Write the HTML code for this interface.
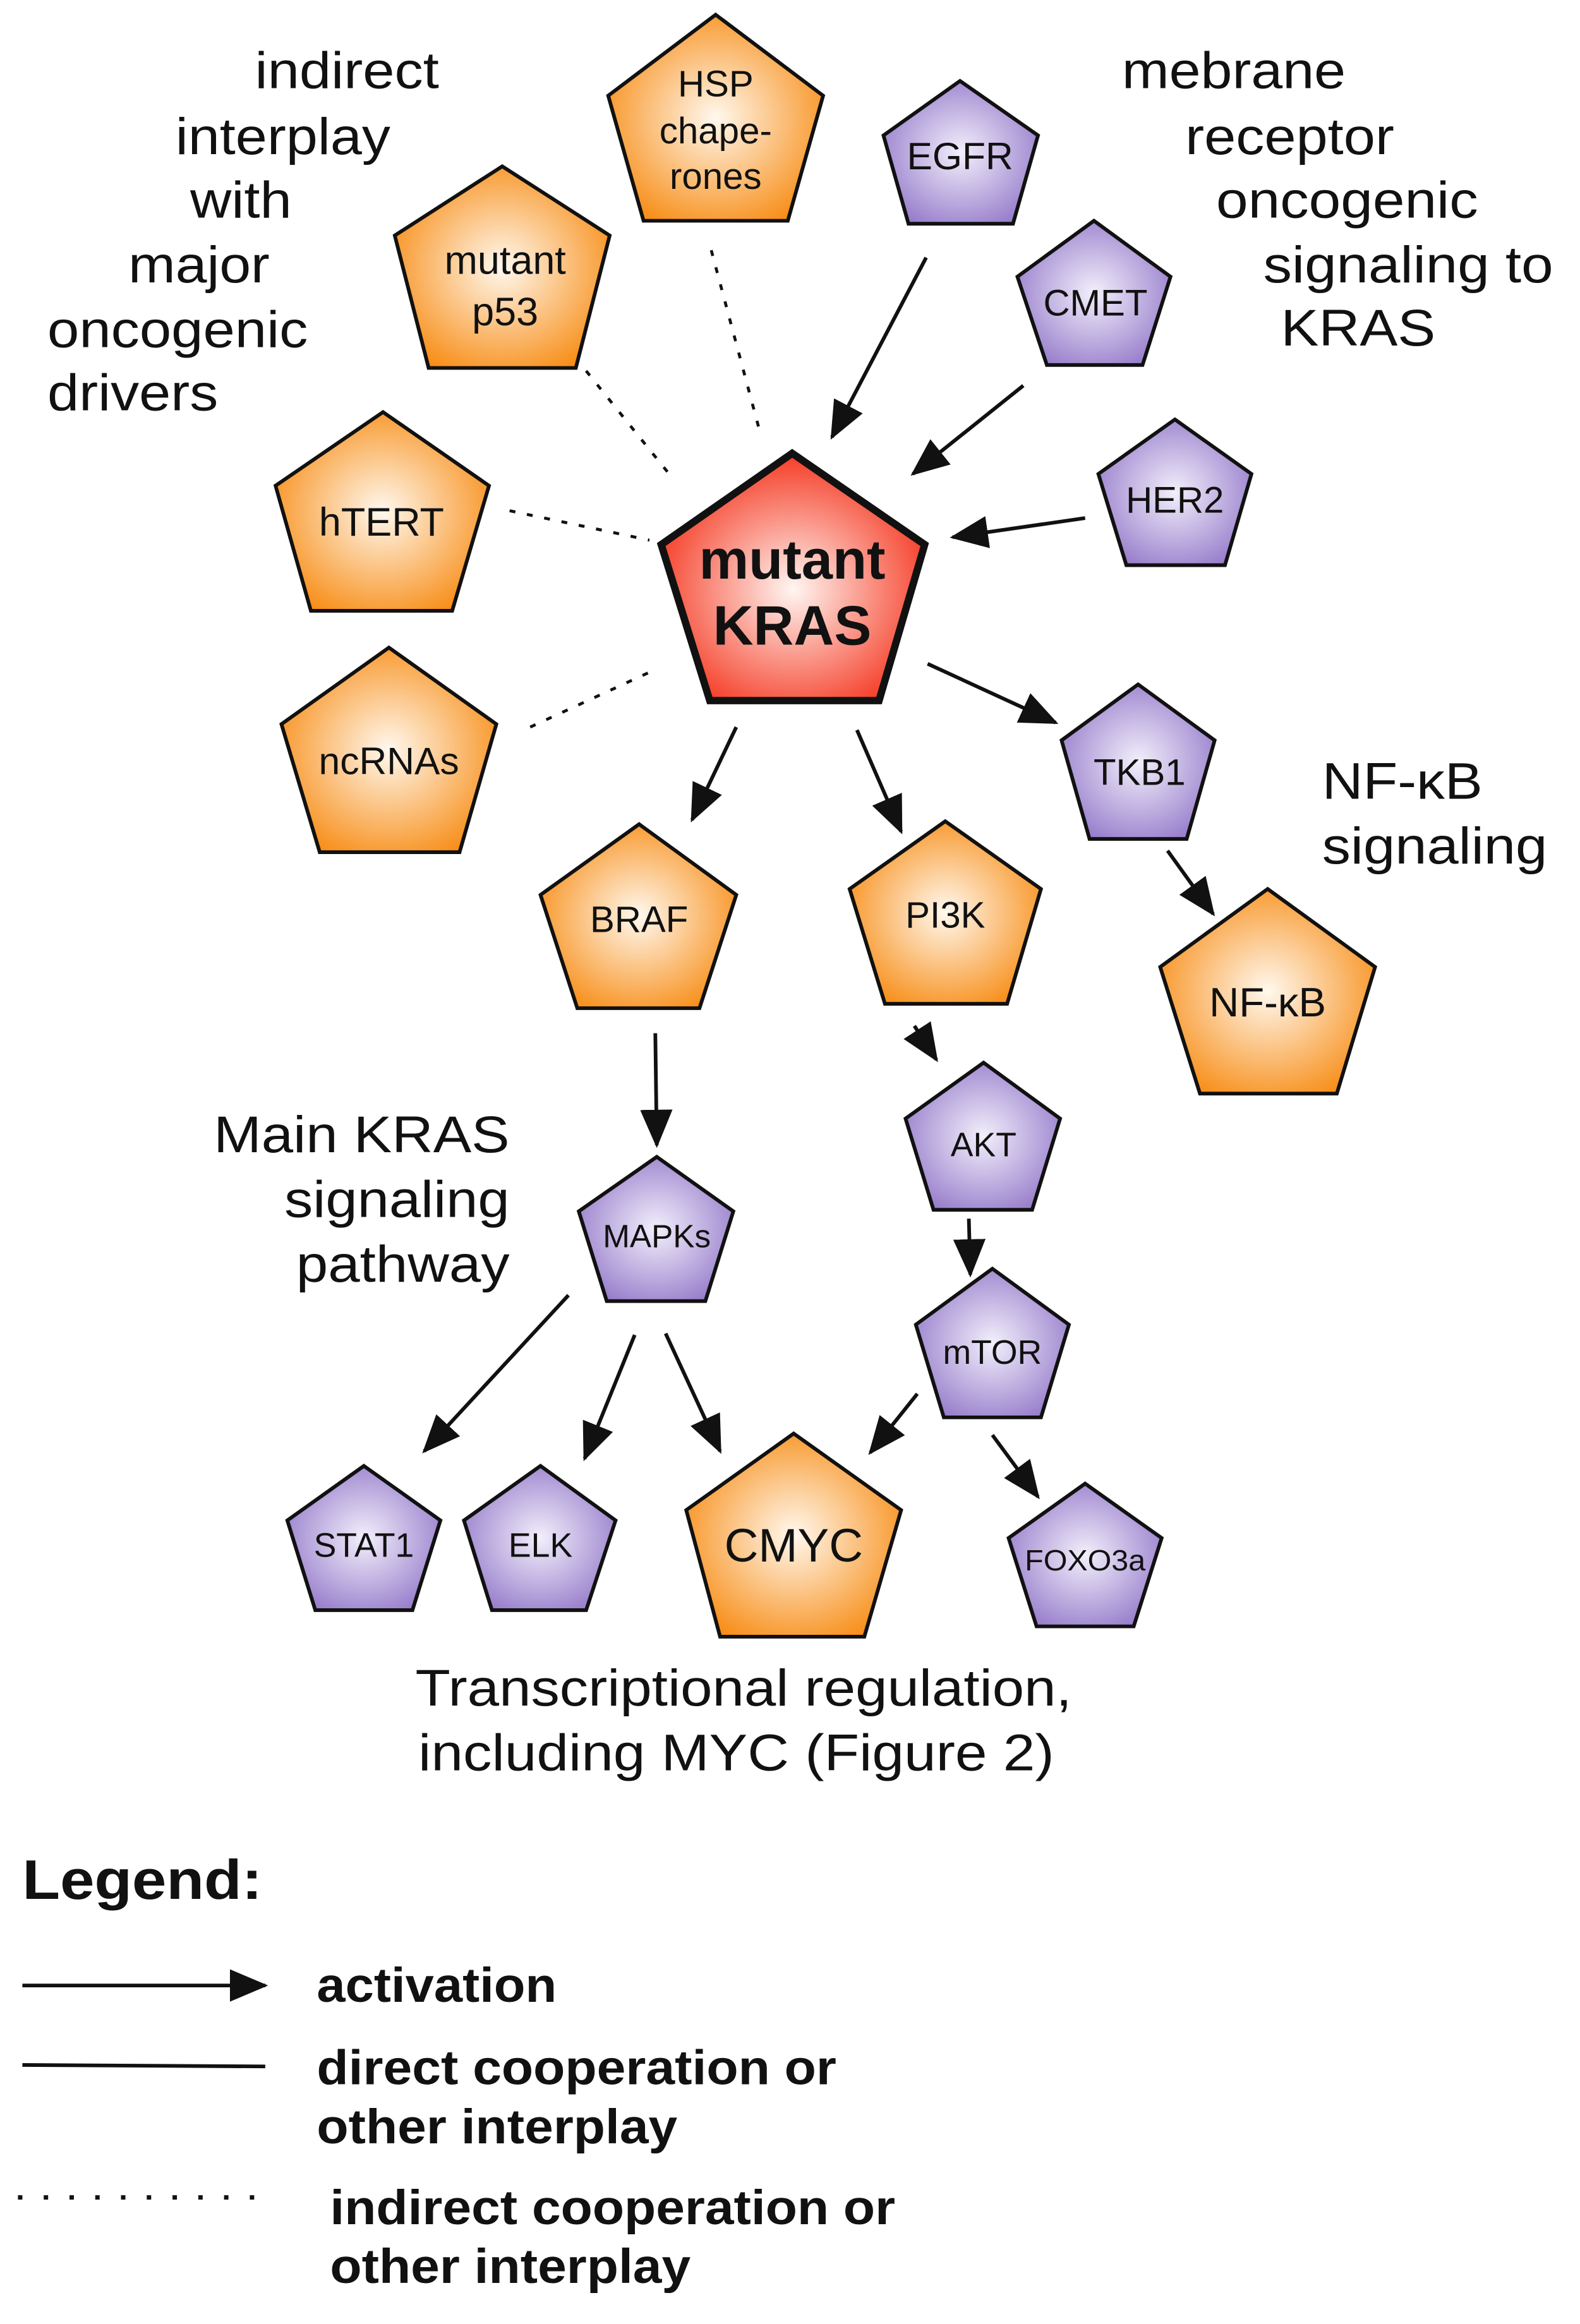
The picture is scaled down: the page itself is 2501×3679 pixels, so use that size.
<!DOCTYPE html>
<html><head><meta charset="utf-8"><style>html,body{margin:0;padding:0;background:#fff}svg{display:block;font-family:"Liberation Sans",Arial,sans-serif}</style></head>
<body>
<svg width="2501" height="3679" viewBox="0 0 1073 1579" xmlns="http://www.w3.org/2000/svg" font-family="'Liberation Sans', Arial, sans-serif">
<defs>
<radialGradient id="og" cx="50%" cy="50%" r="60%"><stop offset="0" stop-color="#fff8ee"/><stop offset="1" stop-color="#f78a10"/></radialGradient>
<radialGradient id="pg" cx="50%" cy="50%" r="60%"><stop offset="0" stop-color="#f2effb"/><stop offset="1" stop-color="#9378c9"/></radialGradient>
<radialGradient id="rg" cx="50%" cy="55%" r="60%"><stop offset="0" stop-color="#fff6f2"/><stop offset="1" stop-color="#f42a12"/></radialGradient>
<marker id="a" markerUnits="userSpaceOnUse" markerWidth="26" markerHeight="22" refX="24" refY="11" orient="auto"><path d="M0,0 L26,11 L0,22 z" fill="#111"/></marker>
</defs>
<rect width="1073" height="1579" fill="#fff"/>
<g stroke="#111" stroke-width="2.5" stroke-linejoin="miter">
<polygon fill="url(#og)" points="486,10 559,65 535,150 437,150 413,65"/>
<polygon fill="url(#pg)" points="652,55 705,92 688,152 617,152 600,92"/>
<polygon fill="url(#og)" points="341,113 414,160 391,250 291,250 268,160"/>
<polygon fill="url(#pg)" points="743,150 795,188 776,248 711,248 691,188"/>
<polygon fill="url(#og)" points="260,280 332,330 307,415 211,415 187,330"/>
<polygon fill="url(#pg)" points="798,285 850,322 832,384 765,384 746,322"/>
<polygon fill="url(#og)" points="264,440 337,492 312,579 217,579 191,492"/>
<polygon fill="url(#pg)" points="773,465 825,503 806,570 740,570 721,503"/>
<polygon fill="url(#og)" points="434,560 500,608 475,685 392,685 367,608"/>
<polygon fill="url(#og)" points="642,558 707,604 684,682 601,682 577,604"/>
<polygon fill="url(#og)" points="861,604 934,657 908,743 815,743 788,657"/>
<polygon fill="url(#pg)" points="668,722 720,760 701,822 634,822 615,760"/>
<polygon fill="url(#pg)" points="446,786 498,823 479,884 412,884 393,823"/>
<polygon fill="url(#pg)" points="674,862 726,900 707,963 641,963 622,900"/>
<polygon fill="url(#pg)" points="247,996 299,1033 280,1094 214,1094 195,1033"/>
<polygon fill="url(#pg)" points="367,996 418,1033 398,1094 334,1094 315,1033"/>
<polygon fill="url(#og)" points="539,974 612,1026 587,1112 489,1112 466,1026"/>
<polygon fill="url(#pg)" points="737,1008 789,1045 770,1105 704,1105 685,1045"/>
<polygon fill="url(#rg)" stroke-width="5" points="538,308 628,370 597,476 482,476 449,370"/>
</g>
<g stroke="#111" stroke-width="2.5" fill="none" marker-end="url(#a)">
<line x1="629" y1="175" x2="565" y2="297"/>
<line x1="695" y1="262" x2="620" y2="322"/>
<line x1="737" y1="352" x2="647" y2="365"/>
<line x1="630" y1="451" x2="717" y2="491"/>
<line x1="500" y1="494" x2="470" y2="557"/>
<line x1="582" y1="496" x2="612" y2="565"/>
<line x1="793" y1="578" x2="824" y2="621"/>
<line x1="445" y1="702" x2="446" y2="778"/>
<line x1="621" y1="697" x2="636" y2="720"/>
<line x1="658" y1="828" x2="659" y2="866"/>
<line x1="386" y1="880" x2="288" y2="986"/>
<line x1="431" y1="907" x2="397" y2="991"/>
<line x1="452" y1="906" x2="489" y2="986"/>
<line x1="623" y1="947" x2="591" y2="987"/>
<line x1="674" y1="975" x2="705" y2="1017"/>
<line x1="15" y1="1349" x2="180" y2="1349"/>
</g>
<g stroke="#111" stroke-width="2" fill="none" stroke-dasharray="4,8">
<line x1="483" y1="170" x2="517" y2="297"/>
<line x1="398" y1="252" x2="456" y2="324"/>
<line x1="346" y1="347" x2="441" y2="367"/>
<line x1="360" y1="494" x2="447" y2="454"/>
<line x1="12" y1="1493" x2="180" y2="1493" stroke-width="3" stroke-dasharray="3,14.5"/>
</g>
<line x1="15" y1="1403" x2="180" y2="1404" stroke="#111" stroke-width="2.5"/>
<g fill="#111" text-anchor="middle" dominant-baseline="central">
<text x="486" y="57" font-size="25">HSP</text>
<text x="486" y="89" font-size="25">chape-</text>
<text x="486" y="120" font-size="25">rones</text>
<text x="343" y="177" font-size="27">mutant</text>
<text x="343" y="212" font-size="27">p53</text>
<text x="259" y="355" font-size="27">hTERT</text>
<text x="652" y="106" font-size="26">EGFR</text>
<text x="744" y="206" font-size="25">CMET</text>
<text x="798" y="340" font-size="25">HER2</text>
<text x="264" y="517" font-size="26">ncRNAs</text>
<text x="774" y="525" font-size="25">TKB1</text>
<text x="434" y="625" font-size="25">BRAF</text>
<text x="642" y="622" font-size="25">PI3K</text>
<text x="861" y="681" font-size="28">NF-κB</text>
<text x="668" y="778" font-size="23">AKT</text>
<text x="446" y="840" font-size="22">MAPKs</text>
<text x="674" y="919" font-size="23">mTOR</text>
<text x="247" y="1050" font-size="23">STAT1</text>
<text x="367" y="1050" font-size="23">ELK</text>
<text x="539" y="1050" font-size="32">CMYC</text>
<text x="737" y="1060" font-size="20" textLength="82" lengthAdjust="spacingAndGlyphs">FOXO3a</text>
<text x="538" y="380" font-size="38" font-weight="bold">mutant</text>
<text x="538" y="425" font-size="38" font-weight="bold">KRAS</text>
</g>
<g fill="#111" font-size="35" dominant-baseline="central">
<text x="173" y="48" textLength="125" lengthAdjust="spacingAndGlyphs">indirect</text>
<text x="119" y="93" textLength="146" lengthAdjust="spacingAndGlyphs">interplay</text>
<text x="129" y="136" textLength="69" lengthAdjust="spacingAndGlyphs">with</text>
<text x="87" y="180" textLength="96" lengthAdjust="spacingAndGlyphs">major</text>
<text x="32" y="224" textLength="177" lengthAdjust="spacingAndGlyphs">oncogenic</text>
<text x="32" y="267" textLength="116" lengthAdjust="spacingAndGlyphs">drivers</text>
<text x="762" y="48" textLength="152" lengthAdjust="spacingAndGlyphs">mebrane</text>
<text x="805" y="93" textLength="142" lengthAdjust="spacingAndGlyphs">receptor</text>
<text x="826" y="136" textLength="178" lengthAdjust="spacingAndGlyphs">oncogenic</text>
<text x="858" y="180" textLength="197" lengthAdjust="spacingAndGlyphs">signaling to</text>
<text x="870" y="223" textLength="105" lengthAdjust="spacingAndGlyphs">KRAS</text>
<text x="898" y="531" textLength="109" lengthAdjust="spacingAndGlyphs">NF-κB</text>
<text x="898" y="575" textLength="153" lengthAdjust="spacingAndGlyphs">signaling</text>
<text x="145" y="771" textLength="201" lengthAdjust="spacingAndGlyphs">Main KRAS</text>
<text x="193" y="815" textLength="153" lengthAdjust="spacingAndGlyphs">signaling</text>
<text x="201" y="859" textLength="145" lengthAdjust="spacingAndGlyphs">pathway</text>
<text x="282" y="1147" textLength="446" lengthAdjust="spacingAndGlyphs">Transcriptional regulation,</text>
<text x="284" y="1191" textLength="432" lengthAdjust="spacingAndGlyphs">including MYC (Figure 2)</text>
</g>
<g fill="#111" font-weight="bold" dominant-baseline="central">
<text x="15" y="1277" font-size="38" textLength="163" lengthAdjust="spacingAndGlyphs">Legend:</text>
<text x="215" y="1349" font-size="33" textLength="163" lengthAdjust="spacingAndGlyphs">activation</text>
<text x="215" y="1405" font-size="33" textLength="353" lengthAdjust="spacingAndGlyphs">direct cooperation or</text>
<text x="215" y="1445" font-size="33" textLength="245" lengthAdjust="spacingAndGlyphs">other interplay</text>
<text x="224" y="1500" font-size="33" textLength="384" lengthAdjust="spacingAndGlyphs">indirect cooperation or</text>
<text x="224" y="1540" font-size="33" textLength="245" lengthAdjust="spacingAndGlyphs">other interplay</text>
</g>
</svg>
</body></html>
